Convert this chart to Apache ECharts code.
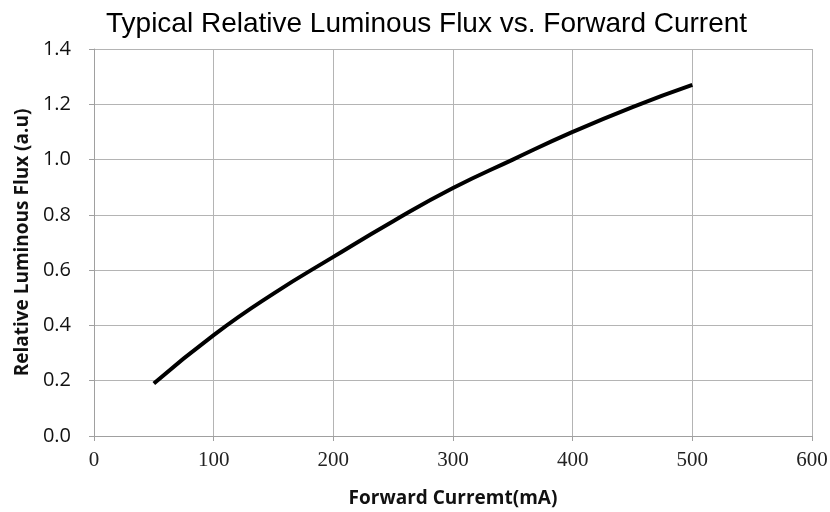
<!DOCTYPE html>
<html>
<head>
<meta charset="utf-8">
<script src="https://cdn.jsdelivr.net/npm/echarts@6/dist/echarts.min.js"></script>
<style>html,body{margin:0;padding:0;background:#fff}#c{width:830px;height:512px}</style>
</head>
<body>
<div id="c"></div>
<script>
var current = [50, 100, 150, 200, 250, 300, 350, 400, 450, 500];
var flux = [0.19, 0.365, 0.515, 0.648, 0.777, 0.897, 1.0, 1.10, 1.19, 1.27];
var xTicks = [0, 100, 200, 300, 400, 500, 600];
var yTicks = [0, 0.2, 0.4, 0.6, 0.8, 1.0, 1.2, 1.4];

var chart = echarts.init(document.getElementById('c'), null, {renderer: 'canvas'});
chart.setOption({
  animation: false,
  title: {
    text: 'Typical Relative Luminous Flux vs. Forward Current',
    left: 101, top: 5,
    textStyle: {fontFamily: 'Liberation Sans', fontSize: 28, fontWeight: 'normal', color: '#000'}
  },
  grid: {left: 94, right: 18, top: 49, bottom: 76, containLabel: false, outerBoundsMode: 'none'},
  xAxis: {
    type: 'value', min: 0, max: 600, interval: 100,
    name: 'Forward Curremt(mA)', nameLocation: 'middle', nameGap: 53,
    nameTextStyle: {fontFamily: 'Open Sans', fontSize: 19, fontWeight: 'bold', color: '#111'},
    axisLine: {show: true, lineStyle: {color: '#a0a0a0', width: 1}},
    axisTick: {show: true, length: 5, lineStyle: {color: '#a0a0a0'}},
    splitLine: {show: true, lineStyle: {color: '#b4b4b4', width: 1}},
    axisLabel: {fontFamily: 'Liberation Serif', fontSize: 21, color: '#222', margin: 14,
      formatter: function(v){ return xTicks.indexOf(v) >= 0 ? String(v) : ''; }}
  },
  yAxis: {
    type: 'value', min: 0, max: 1.4, interval: 0.2,
    name: 'Relative Luminous Flux (a.u)', nameLocation: 'middle', nameGap: 62, nameRotate: 90,
    nameTextStyle: {fontFamily: 'Open Sans', fontSize: 19, fontWeight: 'bold', color: '#111'},
    axisLine: {show: true, lineStyle: {color: '#a0a0a0', width: 1}},
    axisTick: {show: true, length: 5, lineStyle: {color: '#a0a0a0'}},
    splitLine: {show: true, lineStyle: {color: '#b4b4b4', width: 1}},
    axisLabel: {fontFamily: 'Open Sans', fontSize: 20, color: '#111', margin: 23,
      formatter: function(v){ return yTicks.some(function(t){return Math.abs(t-v)<1e-9;}) ? v.toFixed(1) : ''; }}
  },
  series: [{
    type: 'line',
    data: current.map(function(x, i){ return [x, flux[i]]; }),
    smooth: true,
    symbol: 'none',
    lineStyle: {color: '#000', width: 4}
  }]
});
</script>
</body>
</html>
